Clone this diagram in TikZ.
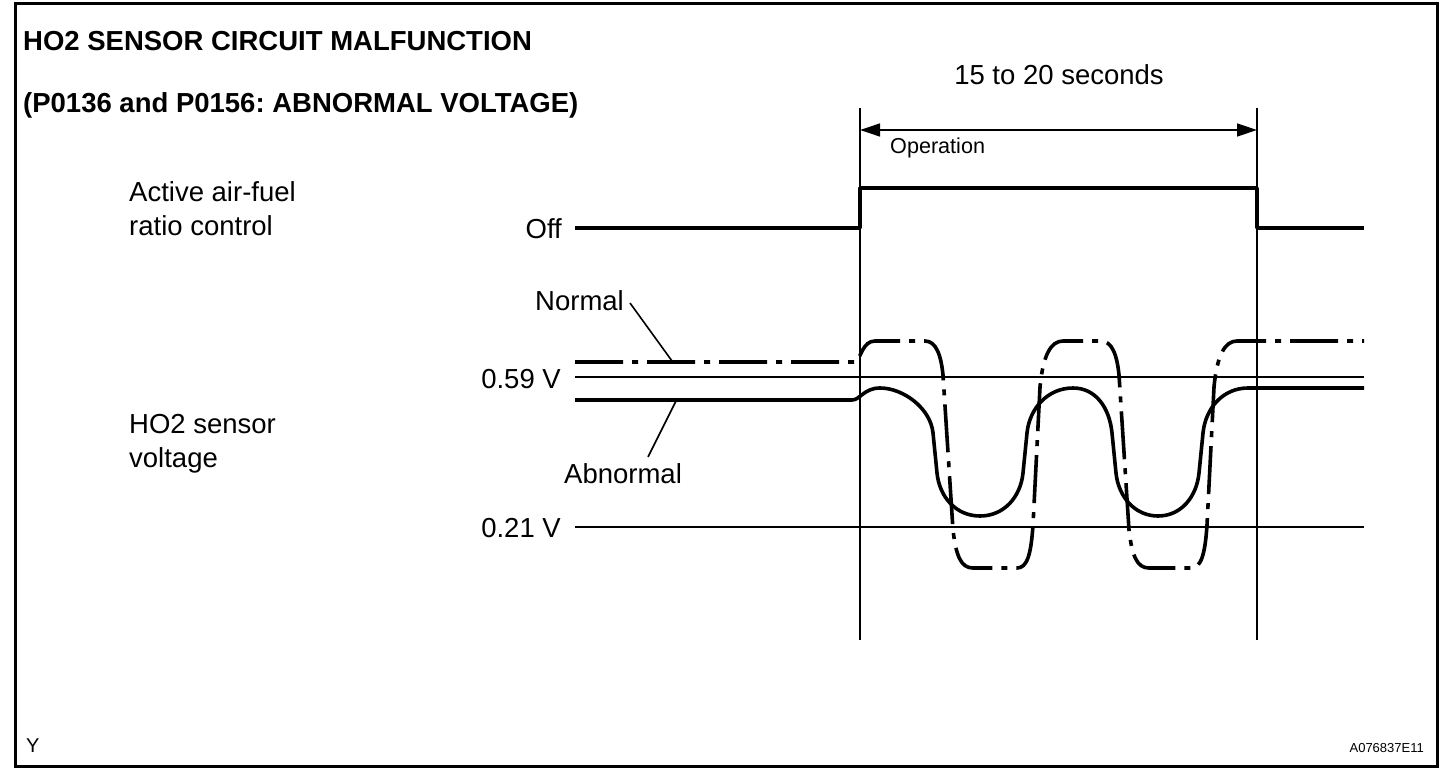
\documentclass[tikz,border=0pt]{standalone}
\usepackage{fontspec}
\setmainfont{Liberation Sans}
\usetikzlibrary{arrows.meta}
\frenchspacing
\begin{document}
\begin{tikzpicture}[x=1pt,y=-1pt,
  lbl/.style={font=\fontsize{27.5}{33}\selectfont, inner sep=0pt},
  ttl/.style={font=\fontsize{27.5}{32}\selectfont\bfseries, inner sep=0pt},
  small/.style={font=\fontsize{21.6}{26}\selectfont, inner sep=0pt},
  tiny/.style={font=\fontsize{13}{16}\selectfont, inner sep=0pt},
  thinln/.style={line width=2pt},
  guide/.style={line width=1.3pt},
  leader/.style={line width=1.6pt},
  sig/.style={line width=3.6pt, line join=round},
  dashdot/.style={line width=3.6pt, dash pattern=on 48pt off 9pt on 6pt off 9pt},
  dimarrow/.style={guide, {Triangle[length=20pt,width=13pt]}-{Triangle[length=20pt,width=13pt]}}
]
\useasboundingbox (0,0) rectangle (1456,778);
\draw[line width=3pt] (15,4) rectangle (1437,766);

% titles
\node[ttl, anchor=base west] (title1) at (23,51) {HO2 SENSOR CIRCUIT MALFUNCTION};
\node[ttl, anchor=base west] (title2) at (23,113) {(P0136 and P0156: ABNORMAL VOLTAGE)};

% time span
\coordinate (v1t) at (860,108);
\coordinate (v1b) at (860,640);
\coordinate (v2t) at (1257,108);
\coordinate (v2b) at (1257,640);
\draw[guide] (v1t) -- (v1b);
\draw[guide] (v2t) -- (v2b);
\coordinate (arL) at (860,130);
\coordinate (arR) at (1257,130);
\draw[dimarrow] (arL) -- (arR);
\node[lbl, anchor=base] (secs) at (1059,85) {15 to 20 seconds};
\node[small, anchor=base west] (oper) at (890,154) {Operation};

% left labels
\node[lbl, anchor=base west] (act1) at (129,202) {Active air-fuel};
\node[lbl, anchor=base west] (act2) at (129,236) {ratio control};
\node[lbl, anchor=base west] (ho1) at (129,433) {HO2 sensor};
\node[lbl, anchor=base west] (ho2) at (129,467) {voltage};
\node[lbl, anchor=base east] (off) at (562,238) {Off};
\node[lbl, anchor=base east] (v59) at (561,388) {0.59 V};
\node[lbl, anchor=base east] (v21) at (561,537) {0.21 V};

% active control signal
\draw[sig] (575,228) -- (860,228) -- (860,188) -- (1257,188) -- (1257,228) -- (1364,228);

% reference lines
\draw[thinln] (575,377) -- (1364,377);
\draw[thinln] (575,527) -- (1364,527);

% normal (dash-dot)
\draw[dashdot] (575,362) -- (856,362) .. controls (861,357) and (863,341) .. (875,341) -- (925,341)
 .. controls (936,341) and (941,355) .. (943,375) -- (953,530) .. controls (956,556) and (961,568) .. (973,568)
 -- (1017,568) .. controls (1027,568) and (1031,555) .. (1033,525) -- (1040,387) .. controls (1043,355) and (1051,341) .. (1063,341)
 -- (1101,341) .. controls (1112,341) and (1117,355) .. (1119,375) -- (1129,530) .. controls (1132,556) and (1137,568) .. (1149,568)
 -- (1191,568) .. controls (1201,568) and (1205,555) .. (1207,525) -- (1214,387) .. controls (1217,355) and (1225,341) .. (1237,341)
 -- (1364,341);

% abnormal (solid)
\draw[sig] (575,400) -- (852,400) .. controls (860,400) and (864,388) .. (880,388)
 .. controls (903,388) and (930.5,408) .. (933,433) -- (937,473) .. controls (939.4,497) and (956,516) .. (980,516)
 .. controls (1004,516) and (1020.6,497) .. (1023,473) -- (1027,433) .. controls (1029.5,408) and (1048,388) .. (1073,388)
 .. controls (1096,388) and (1109.5,408) .. (1112,433) -- (1116,473) .. controls (1118.4,497) and (1135,516) .. (1158,516)
 .. controls (1181,516) and (1196.6,497) .. (1199,473) -- (1203,433) .. controls (1205.5,408) and (1223,388) .. (1248,388)
 -- (1364,388);

% labels with leaders
\node[lbl, anchor=base west] (nrm) at (535,310) {Normal};
\node[lbl, anchor=base west] (abn) at (564,483) {Abnormal};
\coordinate (nrmA) at (630,303);
\coordinate (nrmB) at (672,361);
\coordinate (abnA) at (648,457);
\coordinate (abnB) at (676,401);
\draw[leader] (nrmA) -- (nrmB);
\draw[leader] (abnA) -- (abnB);

% footer
\node[font=\fontsize{20}{24}\selectfont, inner sep=0pt, anchor=base west] (yy) at (26,752) {Y};
\node[tiny, anchor=base east] (code) at (1424,752) {A076837E11};
\end{tikzpicture}
\end{document}
